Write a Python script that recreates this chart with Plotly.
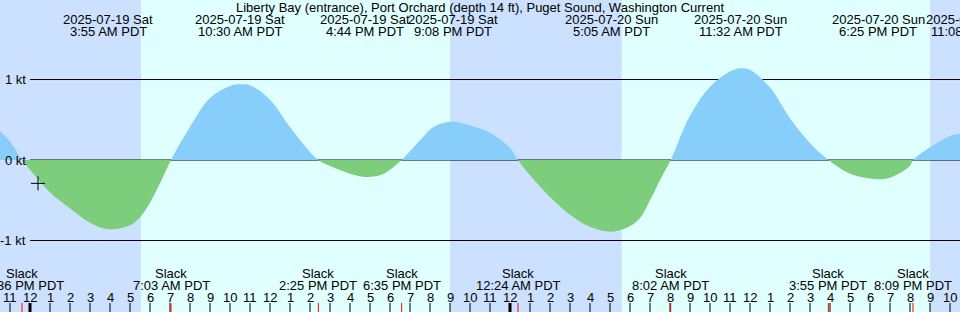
import pandas as pd
import plotly.graph_objects as go

W, H = 960, 312

title = "Liberty Bay (entrance), Port Orchard (depth 14 ft), Puget Sound, Washington Current"

x_start = "2025-07-18 22:30"
x_end = "2025-07-20 22:30"
y_top = 1.988
y_bottom = -1.888

# current speed (kt)
times = [
    "2025-07-18 22:30", "2025-07-18 23:00", "2025-07-18 23:36",
    "2025-07-19 00:00", "2025-07-19 01:00", "2025-07-19 02:00", "2025-07-19 03:00",
    "2025-07-19 03:55", "2025-07-19 05:00", "2025-07-19 05:30", "2025-07-19 06:00", "2025-07-19 06:30",
    "2025-07-19 07:03", "2025-07-19 08:00", "2025-07-19 09:00", "2025-07-19 10:00",
    "2025-07-19 10:30", "2025-07-19 11:00", "2025-07-19 12:00", "2025-07-19 13:00",
    "2025-07-19 14:00", "2025-07-19 14:25", "2025-07-19 15:00", "2025-07-19 16:00",
    "2025-07-19 16:44", "2025-07-19 17:30", "2025-07-19 18:00", "2025-07-19 18:35",
    "2025-07-19 19:00", "2025-07-19 19:40", "2025-07-19 20:10", "2025-07-19 21:08", "2025-07-19 22:00",
    "2025-07-19 23:00", "2025-07-20 00:00", "2025-07-20 00:24", "2025-07-20 01:00",
    "2025-07-20 02:00", "2025-07-20 03:00", "2025-07-20 04:00", "2025-07-20 05:05",
    "2025-07-20 06:00", "2025-07-20 06:30", "2025-07-20 07:00", "2025-07-20 07:30",
    "2025-07-20 08:02", "2025-07-20 09:00", "2025-07-20 10:00", "2025-07-20 11:00",
    "2025-07-20 11:32", "2025-07-20 12:00", "2025-07-20 13:00", "2025-07-20 14:00",
    "2025-07-20 15:00", "2025-07-20 15:55", "2025-07-20 17:00", "2025-07-20 18:00",
    "2025-07-20 18:25", "2025-07-20 19:00", "2025-07-20 20:00", "2025-07-20 20:09",
    "2025-07-20 21:00", "2025-07-20 22:00", "2025-07-20 22:30",
]
speeds = [
    0.36, 0.23, 0.0,
    -0.12, -0.40, -0.60, -0.78,
    -0.86, -0.81, -0.71, -0.53, -0.29,
    0.0, 0.41, 0.77, 0.92,
    0.94, 0.93, 0.75, 0.41,
    0.10, 0.0, -0.075, -0.17,
    -0.21, -0.19, -0.12, 0.0,
    0.11, 0.29, 0.41, 0.48, 0.43,
    0.34, 0.15, 0.0, -0.19,
    -0.46, -0.68, -0.83, -0.89,
    -0.82, -0.72, -0.50, -0.25,
    0.0, 0.55, 0.91, 1.10,
    1.14, 1.12, 0.90, 0.52,
    0.21, 0.0, -0.17, -0.23,
    -0.24, -0.22, -0.07, 0.0,
    0.16, 0.30, 0.33,
]

event_times = ["2025-07-19 03:55", "2025-07-19 10:30", "2025-07-19 16:44", "2025-07-19 21:08",
               "2025-07-20 05:05", "2025-07-20 11:32", "2025-07-20 18:25", "2025-07-20 23:08"]
event_dates = ["2025-07-19 Sat", "2025-07-19 Sat", "2025-07-19 Sat", "2025-07-19 Sat",
               "2025-07-20 Sun", "2025-07-20 Sun", "2025-07-20 Sun", "2025-07-20 Sun"]
event_labels = ["3:55 AM PDT", "10:30 AM PDT", "4:44 PM PDT", "9:08 PM PDT",
                "5:05 AM PDT", "11:32 AM PDT", "6:25 PM PDT", "11:08 PM PDT"]

slack_times = ["2025-07-18 23:36", "2025-07-19 07:03", "2025-07-19 14:25", "2025-07-19 18:35",
               "2025-07-20 00:24", "2025-07-20 08:02", "2025-07-20 15:55", "2025-07-20 20:09"]
slack_labels = ["11:36 PM PDT", "7:03 AM PDT", "2:25 PM PDT", "6:35 PM PDT",
                "12:24 AM PDT", "8:02 AM PDT", "3:55 PM PDT", "8:09 PM PDT"]

night_start = ["2025-07-18 22:30", "2025-07-19 21:00", "2025-07-20 21:00"]
night_end = ["2025-07-19 05:33", "2025-07-20 05:35", "2025-07-20 22:30"]

kt_levels = [1, 0, -1]
kt_labels = ["1 kt", "0 kt", "-1 kt"]

mark_time = ["2025-07-19 00:24"]
mark_speed = [-0.29]

hours = pd.date_range("2025-07-18 23:00", "2025-07-20 22:00", freq="h")
hour_labels = [str((h.hour % 12) or 12) for h in hours]

DAY = "#E0FFFF"
NIGHT = "#CCE0FF"
FLOOD = "#87CEFA"
EBB = "#7CCD7C"
FONT = "Liberation Sans"
FS = 13

zero_frac = (0 - y_bottom) / (y_top - y_bottom)


def py(pix):
    return 1 - pix / H


t0 = pd.Timestamp(x_start)
t1 = pd.Timestamp(x_end)


def xfrac(t):
    return (pd.Timestamp(t) - t0) / (t1 - t0)


fig = go.Figure()

# flood part: the whole curve on an axis that only covers the area above 0 kt
fig.add_trace(go.Scatter(
    x=times, y=speeds, mode="lines", fill="tozeroy", fillcolor=FLOOD, yaxis="y2",
    line=dict(width=0, shape="spline", smoothing=1, color=FLOOD),
    hoverinfo="skip", showlegend=False))
# ebb part: the whole curve on an axis that only covers the area below 0 kt
fig.add_trace(go.Scatter(
    x=times, y=speeds, mode="lines", fill="tozeroy", fillcolor=EBB, yaxis="y3",
    line=dict(width=0, shape="spline", smoothing=1, color=EBB),
    hoverinfo="skip", showlegend=False))
fig.add_trace(go.Scatter(
    x=mark_time, y=mark_speed, mode="markers", yaxis="y3",
    marker=dict(symbol="cross-thin", size=10, line=dict(width=1, color="black"), color="black"),
    hoverinfo="skip", showlegend=False))

shapes = []
for s, e in zip(night_start, night_end):
    shapes.append(dict(type="rect", xref="x", yref="paper", x0=s, x1=e, y0=0, y1=1,
                       fillcolor=NIGHT, line=dict(width=0), layer="below"))
for lv in kt_levels:
    shapes.append(dict(type="line", xref="paper", yref="y", x0=30 / W, x1=1, y0=lv, y1=lv,
                       line=dict(color="black", width=1), layer="below"))
for h in hours:
    shapes.append(dict(type="line", xref="x", yref="paper", x0=h, x1=h, y0=0, y1=9 / H,
                       line=dict(color="black", width=3 if h.hour == 0 else 1)))
for s in slack_times:
    shapes.append(dict(type="line", xref="x", yref="paper", x0=s, x1=s, y0=0, y1=9 / H,
                       line=dict(color="red", width=1)))

ann = []
font = dict(family=FONT, size=FS, color="black")
ann.append(dict(text=title, xref="paper", yref="paper", x=0.5, y=py(7), xanchor="center",
                yanchor="middle", showarrow=False, font=font))
for t, d, l in zip(event_times, event_dates, event_labels):
    fx = xfrac(t)
    ann.append(dict(text=d, xref="paper", yref="paper", x=fx, y=py(19.5), xanchor="center",
                    yanchor="middle", showarrow=False, font=font))
    ann.append(dict(text=l, xref="paper", yref="paper", x=fx, y=py(32), xanchor="center",
                    yanchor="middle", showarrow=False, font=font))
for t, l in zip(slack_times, slack_labels):
    ann.append(dict(text="Slack", xref="x", yref="paper", x=t, y=py(273.7), xanchor="center",
                    yanchor="middle", showarrow=False, font=font))
    ann.append(dict(text=l, xref="x", yref="paper", x=t, y=py(285), xanchor="center",
                    yanchor="middle", showarrow=False, font=font))
for h, l in zip(hours, hour_labels):
    ann.append(dict(text=l, xref="x", yref="paper", x=h, y=py(297.5), xanchor="center",
                    yanchor="middle", showarrow=False, font=font))
for lv, l in zip(kt_levels, kt_labels):
    ann.append(dict(text=l, xref="paper", yref="y", x=28 / W, y=lv, xanchor="right",
                    yanchor="middle", showarrow=False, font=font))

fig.update_layout(
    width=W, height=H, autosize=False,
    margin=dict(l=0, r=0, t=0, b=0, pad=0),
    paper_bgcolor=DAY, plot_bgcolor="rgba(0,0,0,0)",
    xaxis=dict(type="date", range=[x_start, x_end], visible=False, fixedrange=True, anchor="y"),
    yaxis=dict(range=[y_bottom, y_top], domain=[0, 1], visible=False, fixedrange=True, anchor="x"),
    yaxis2=dict(range=[0, y_top], domain=[zero_frac, 1], visible=False, fixedrange=True, anchor="x"),
    yaxis3=dict(range=[y_bottom, 0], domain=[0, zero_frac], visible=False, fixedrange=True, anchor="x"),
    shapes=shapes, annotations=ann, showlegend=False,
)

fig.write_html("out.html", config=dict(displayModeBar=False))
